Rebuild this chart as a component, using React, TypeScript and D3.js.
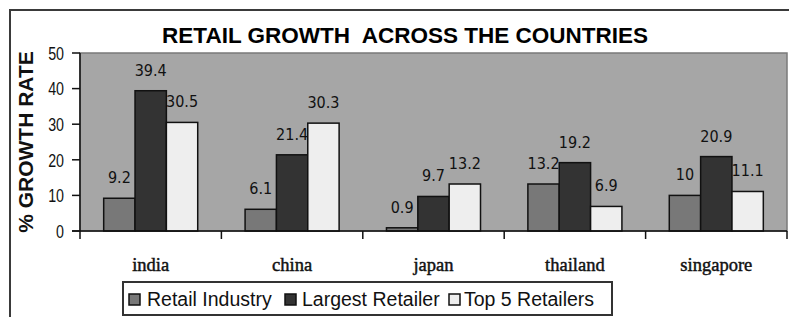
import React from "react";
import * as d3 from "d3";

const categories = ["india", "china", "japan", "thailand", "singapore"];
const seriesNames = ["Retail Industry", "Largest Retailer", "Top 5 Retailers"];
const retailIndustry = [9.2, 6.1, 0.9, 13.2, 10];
const largestRetailer = [39.4, 21.4, 9.7, 19.2, 20.9];
const top5Retailers = [30.5, 30.3, 13.2, 6.9, 11.1];
const yTicks = [0, 10, 20, 30, 40, 50];

const colors = ["#787878", "#333333", "#eeeeee"];

const W = 789;
const H = 317;
const plot = { left: 80, right: 787, top: 53, bottom: 231 };

export default function App() {
  const values = [retailIndustry, largestRetailer, top5Retailers];

  const x0 = d3
    .scaleBand<string>()
    .domain(categories)
    .range([plot.left, plot.right])
    .paddingInner(0.335)
    .paddingOuter(0.1675);
  const x1 = d3
    .scaleBand<string>()
    .domain(seriesNames)
    .range([0, x0.bandwidth()]);
  const y = d3.scaleLinear().domain([0, 50]).range([plot.bottom, plot.top]);

  const step = x0.step();
  const boundaries = d3.range(categories.length + 1).map((i) => plot.left + i * step);

  // legend layout
  const legendSwatchX = [129, 285, 449];
  const legendTextX = [147, 302, 464];

  return (
    <svg
      width={W}
      height={H}
      style={{ position: "absolute", left: 0, top: 0, background: "#fff" }}
    >
      {/* outer chart frame */}
      <rect x={10} y={10} width={900} height={400} fill="#fff" stroke="#3a3a3a" strokeWidth={2} />

      {/* title */}
      <text
        x={405}
        y={43}
        textAnchor="middle"
        fontFamily="Liberation Sans, Arial, sans-serif"
        fontWeight="bold"
        fontSize={22.5}
        style={{ whiteSpace: "pre" }}
      >
        {"RETAIL GROWTH  ACROSS THE COUNTRIES"}
      </text>

      {/* plot area */}
      <rect
        x={plot.left}
        y={plot.top}
        width={plot.right - plot.left}
        height={plot.bottom - plot.top}
        fill="#a6a6a6"
        stroke="#7a7a7a"
        strokeWidth={1.5}
      />

      {/* bars */}
      {categories.map((c, ci) => (
        <g key={c} transform={`translate(${x0(c)},0)`}>
          {seriesNames.map((s, si) => {
            const v = values[si][ci];
            return (
              <rect
                key={s}
                x={x1(s)}
                y={y(v)}
                width={x1.bandwidth()}
                height={y(0) - y(v)}
                fill={colors[si]}
                stroke="#111"
                strokeWidth={1.5}
              />
            );
          })}
          {seriesNames.map((s, si) => {
            const v = values[si][ci];
            return (
              <text
                key={s + "-lbl"}
                x={(x1(s) as number) + x1.bandwidth() / 2}
                y={y(v) - 15}
                textAnchor="middle"
                fontFamily="DejaVu Sans Condensed, DejaVu Sans, sans-serif"
                fontSize={16}
                fill="#111"
              >
                {String(v)}
              </text>
            );
          })}
        </g>
      ))}

      {/* y axis */}
      <line x1={plot.left} x2={plot.left} y1={plot.top} y2={plot.bottom} stroke="#111" strokeWidth={1.5} />
      {yTicks.map((t) => (
        <g key={t}>
          <line x1={72} x2={plot.left} y1={y(t)} y2={y(t)} stroke="#111" strokeWidth={1.5} />
          <text
            transform={`translate(64,${y(t)}) scale(0.75,1)`}
            dy="0.36em"
            textAnchor="end"
            fontFamily="Liberation Sans Narrow, Arial Narrow, sans-serif"
            fontSize={19}
            fill="#111"
          >
            {t}
          </text>
        </g>
      ))}

      {/* y axis title */}
      <text
        transform={`translate(33,142) rotate(-90)`}
        textAnchor="middle"
        fontFamily="Liberation Sans, Arial, sans-serif"
        fontWeight="bold"
        fontSize={21}
        fill="#111"
      >
        % GROWTH RATE
      </text>

      {/* x axis */}
      <line x1={72} x2={plot.right} y1={plot.bottom} y2={plot.bottom} stroke="#111" strokeWidth={1.5} />
      {boundaries.map((bx, i) => (
        <line key={i} x1={bx} x2={bx} y1={plot.bottom} y2={plot.bottom + 8} stroke="#111" strokeWidth={1.5} />
      ))}
      {categories.map((c) => (
        <text
          key={c}
          x={(x0(c) as number) + x0.bandwidth() / 2}
          y={271}
          textAnchor="middle"
          fontFamily="Liberation Serif, Times New Roman, serif"
          fontSize={18.5}
          fill="#111"
          stroke="#111"
          strokeWidth={0.45}
        >
          {c}
        </text>
      ))}

      {/* legend */}
      <rect x={123} y={282} width={489} height={33} fill="#fff" stroke="#333" strokeWidth={2} />
      {seriesNames.map((s, i) => (
        <g key={s}>
          <rect x={legendSwatchX[i]} y={294} width={11} height={11} fill={colors[i]} stroke="#111" strokeWidth={1.5} />
          <text
            x={legendTextX[i]}
            y={306}
            fontFamily="Liberation Sans, Arial, sans-serif"
            fontSize={19.5}
            fill="#111"
          >
            {s}
          </text>
        </g>
      ))}
    </svg>
  );
}
